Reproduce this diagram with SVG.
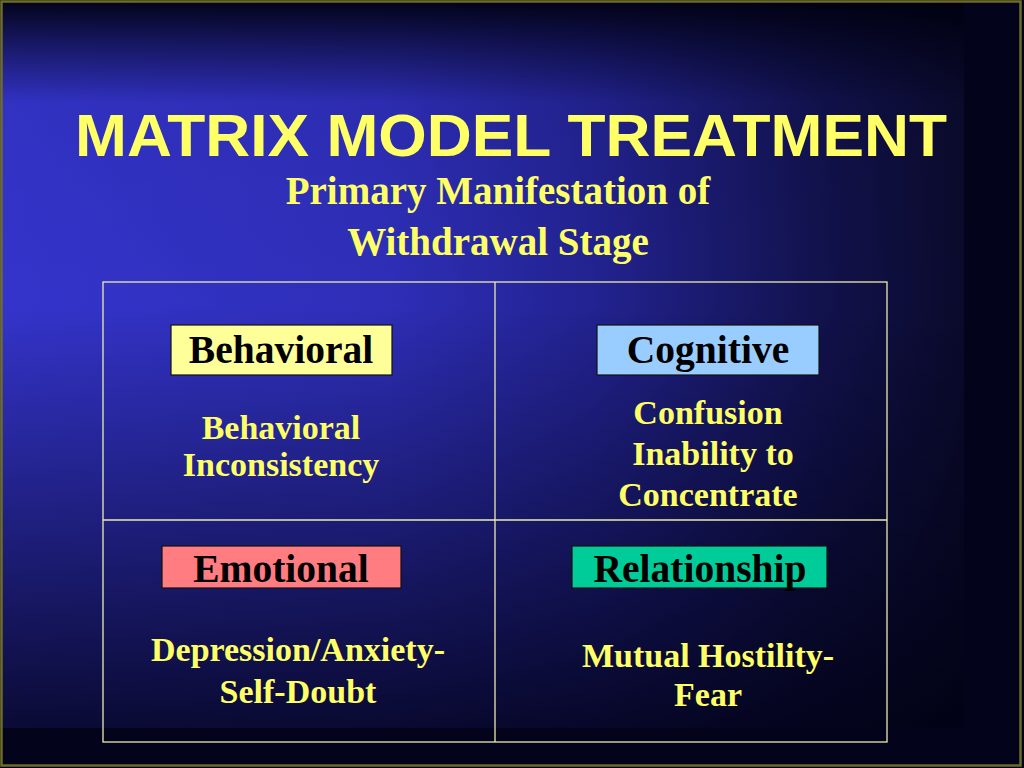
<svg xmlns="http://www.w3.org/2000/svg" width="1024" height="768" viewBox="0 0 1024 768">
<defs>
<linearGradient id="hg" x1="0" y1="0" x2="1" y2="0">
<stop offset="0" stop-color="#3434cc"/>
<stop offset="0.4" stop-color="#2e2eb8"/>
<stop offset="0.62" stop-color="#222290"/>
<stop offset="0.85" stop-color="#12124e"/>
<stop offset="1" stop-color="#0a0a2c"/>
</linearGradient>
<linearGradient id="vg" x1="0" y1="0" x2="0" y2="1">
<stop offset="0" stop-color="#000010" stop-opacity="0.95"/>
<stop offset="0.06" stop-color="#000010" stop-opacity="0.55"/>
<stop offset="0.14" stop-color="#000010" stop-opacity="0.05"/>
<stop offset="0.42" stop-color="#000010" stop-opacity="0"/>
<stop offset="0.75" stop-color="#000010" stop-opacity="0.45"/>
<stop offset="1" stop-color="#000010" stop-opacity="0.8"/>
</linearGradient>
<style>
.ttl{font-family:"Liberation Sans",Arial,sans-serif;font-weight:bold;fill:#ffff66;text-anchor:middle}
.sub{font-family:"Liberation Serif","Times New Roman",serif;font-weight:bold;fill:#ffff66;text-anchor:middle;font-size:39px}
.lbl{font-family:"Liberation Serif","Times New Roman",serif;font-weight:bold;fill:#000000;text-anchor:middle;font-size:39.5px}
.body{font-family:"Liberation Serif","Times New Roman",serif;font-weight:bold;fill:#ffff66;text-anchor:middle;font-size:34px}
.box{stroke:#111111;stroke-width:1.2}
.grid{stroke:#ecebb0;stroke-width:1.3;fill:none}
</style>
</defs>
<rect x="0" y="0" width="1024" height="768" fill="#03031b"/>
<rect x="0" y="0" width="964" height="728" fill="url(#hg)"/>
<rect x="0" y="0" width="964" height="728" fill="url(#vg)"/>
<rect x="1.5" y="1.5" width="1019" height="764" fill="none" stroke="#6e6c28" stroke-width="2.5"/>

<g id="title">
<text class="ttl" x="511" y="156" font-size="60" textLength="872" lengthAdjust="spacingAndGlyphs">MATRIX MODEL TREATMENT</text>
<text class="sub" x="498" y="204">Primary Manifestation of</text>
<text class="sub" x="498" y="255">Withdrawal Stage</text>
</g>

<g id="connectors">
<rect class="grid" x="103" y="282" width="784" height="460"/>
<line class="grid" x1="495" y1="282" x2="495" y2="742"/>
<line class="grid" x1="103" y1="520" x2="887" y2="520"/>
</g>

<g id="behavioral">
<rect class="box" x="171" y="325" width="221" height="50" fill="#ffff99"/>
<text class="lbl" x="281" y="363">Behavioral</text>
<text class="body" x="281" y="439">Behavioral</text>
<text class="body" x="281" y="476">Inconsistency</text>
</g>

<g id="cognitive">
<rect class="box" x="597" y="325" width="222" height="50" fill="#99ccff"/>
<text class="lbl" x="708" y="363">Cognitive</text>
<text class="body" x="708" y="424">Confusion</text>
<text class="body" x="713" y="465">Inability to</text>
<text class="body" x="708" y="506">Concentrate</text>
</g>

<g id="emotional">
<rect class="box" x="162" y="546" width="239" height="42" fill="#ff7c80"/>
<text class="lbl" x="281" y="582">Emotional</text>
<text class="body" x="298" y="661">Depression/Anxiety-</text>
<text class="body" x="298" y="703">Self-Doubt</text>
</g>

<g id="relationship">
<rect class="box" x="572" y="546" width="255" height="42" fill="#00cc99"/>
<text class="lbl" x="700" y="582">Relationship</text>
<text class="body" x="708" y="667">Mutual Hostility-</text>
<text class="body" x="708" y="706">Fear</text>
</g>
</svg>
